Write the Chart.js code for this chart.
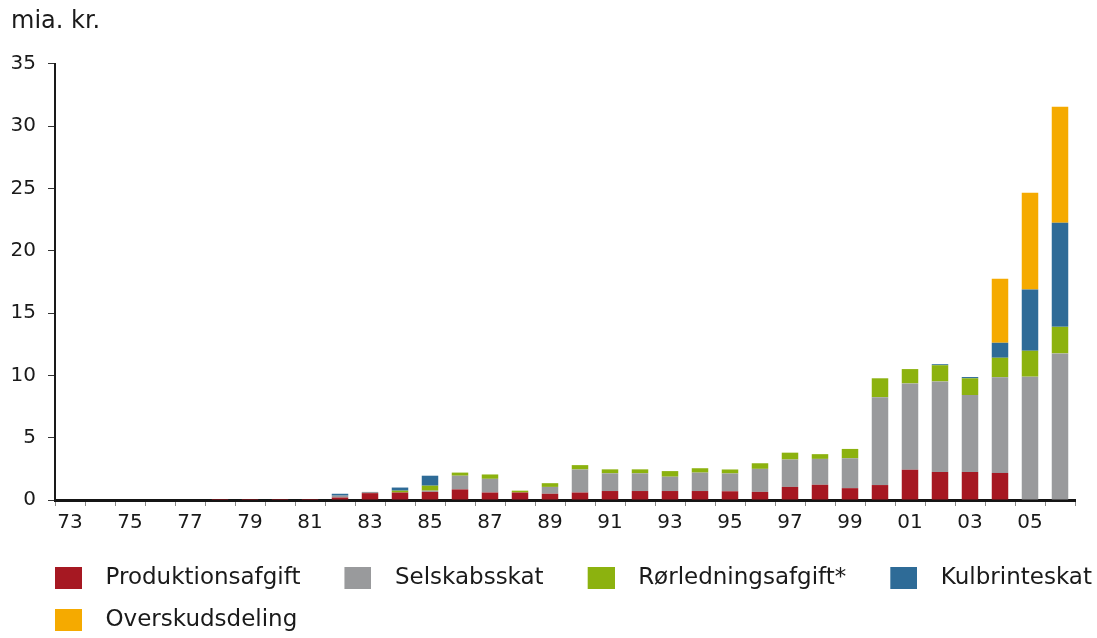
<!DOCTYPE html>
<html>
<head>
<meta charset="utf-8">
<script src="https://cdn.jsdelivr.net/npm/chart.js@4/dist/chart.umd.min.js"></script>
<style>
  html, body { margin: 0; padding: 0; background: #ffffff; }
  #wrap { position: relative; width: 1097px; height: 638px; }
</style>
</head>
<body>
<div id="wrap"><canvas id="c" width="1097" height="638"></canvas></div>
<script>
// Categories (years 1973-2006)
const years = ['73','74','75','76','77','78','79','80','81','82','83','84','85','86','87','88','89',
               '90','91','92','93','94','95','96','97','98','99','00','01','02','03','04','05','06'];

// Series values (mia. kr.)
const produktionsafgift = [0,0,0,0,0,0.08,0.08,0.08,0.08,0.2,0.55,0.6,0.65,0.85,0.6,0.6,0.5,
                           0.6,0.72,0.72,0.72,0.72,0.7,0.65,1.05,1.22,0.95,1.2,2.43,2.25,2.25,2.17,0,0];
const selskabsskat      = [0,0,0,0,0,0,0,0,0,0.15,0.1,0,0.1,1.1,1.1,0,0.55,
                           1.85,1.42,1.42,1.15,1.48,1.43,1.85,2.2,2.08,2.4,7.05,6.93,7.27,6.17,7.68,9.9,11.77];
const roerledningsafgift= [0,0,0,0,0,0,0,0,0,0,0,0.15,0.4,0.25,0.35,0.15,0.3,
                           0.35,0.32,0.32,0.45,0.35,0.32,0.45,0.55,0.38,0.75,1.52,1.15,1.3,1.35,1.57,2.08,2.13];
const kulbrinteskat     = [0,0,0,0,0,0,0,0,0,0.15,0,0.25,0.8,0,0,0,0,
                           0,0,0,0,0,0,0,0,0,0,0,0,0.08,0.1,1.2,4.92,8.35];
const overskudsdeling   = [0,0,0,0,0,0,0,0,0,0,0,0,0,0,0,0,0,
                           0,0,0,0,0,0,0,0,0,0,0,0,0,0,5.14,7.76,9.32];

const seriesNames = ['Produktionsafgift','Selskabsskat','Rørledningsafgift*','Kulbrinteskat','Overskudsdeling'];
const yTicks = [0,5,10,15,20,25,30,35];
const unitLabel = 'mia. kr.';

const colors = ['#A61822','#999A9C','#8CB20F','#2E6B97','#F5AA00'];
const seriesData = [produktionsafgift, selskabsskat, roerledningsafgift, kulbrinteskat, overskudsdeling];

function swatch(color) {
  const c = document.createElement('canvas');
  c.width = 40; c.height = 23;
  const g = c.getContext('2d');
  g.fillStyle = color;
  g.fillRect(13, 0, 27, 22);
  return c;
}
const swatches = colors.map(swatch);

const FONT = '"DejaVu Sans", Verdana, sans-serif';
const TXT = '#1a1a1a';

new Chart(document.getElementById('c'), {
  type: 'bar',
  data: {
    labels: years,
    datasets: seriesNames.map((name, i) => ({
      label: name,
      data: seriesData[i],
      backgroundColor: colors[i],
      borderWidth: 0,
      categoryPercentage: 1.0,
      barPercentage: 0.55
    }))
  },
  options: {
    responsive: false,
    animation: false,
    layout: { padding: { left: 11, right: -20, top: 0, bottom: -4 } },
    plugins: {
      title: {
        display: true,
        text: unitLabel,
        align: 'start',
        color: TXT,
        font: { family: FONT, size: 24, weight: 'normal', lineHeight: 1.2 },
        padding: { top: 7.8, bottom: 27.4 }
      },
      legend: {
        display: true,
        position: 'bottom',
        align: 'start',
        labels: {
          usePointStyle: true,
          pointStyleWidth: 64,
          boxHeight: 23,
          padding: 19,
          color: TXT,
          font: { family: FONT, size: 23 },
          generateLabels: (chart) => chart.data.datasets.map((ds, i) => ({
            text: ds.label,
            fillStyle: ds.backgroundColor,
            strokeStyle: ds.backgroundColor,
            lineWidth: 0,
            pointStyle: swatches[i],
            hidden: false,
            datasetIndex: i,
            fontColor: TXT
          }))
        }
      },
      tooltip: { enabled: false }
    },
    scales: {
      x: {
        stacked: true,
        offset: true,
        grid: { display: true, drawOnChartArea: false, drawTicks: true, tickLength: 6, color: '#8a8a8a', lineWidth: 1, offset: true },
        border: { display: true, color: '#151515', width: 3 },
        ticks: {
          autoSkip: false,
          maxRotation: 0,
          minRotation: 0,
          padding: 5,
          color: TXT,
          font: { family: FONT, size: 20 },
          callback: function(value, index) { return index % 2 === 0 ? this.getLabelForValue(value) : ''; }
        },
        afterFit: (scale) => { scale.height = 48; scale.paddingRight = 22; }
      },
      y: {
        stacked: true,
        min: 0,
        max: 35,
        grid: { display: true, drawOnChartArea: false, drawTicks: true, tickLength: 7, color: '#333333', lineWidth: 1 },
        border: { display: true, color: '#1a1a1a', width: 2 },
        ticks: {
          stepSize: 5,
          padding: 12,
          color: TXT,
          font: { family: FONT, size: 20 },
          callback: (v) => yTicks.includes(v) ? String(v) : ''
        },
        afterFit: (scale) => { scale.width = 44; }
      }
    }
  }
});
</script>
</body>
</html>
